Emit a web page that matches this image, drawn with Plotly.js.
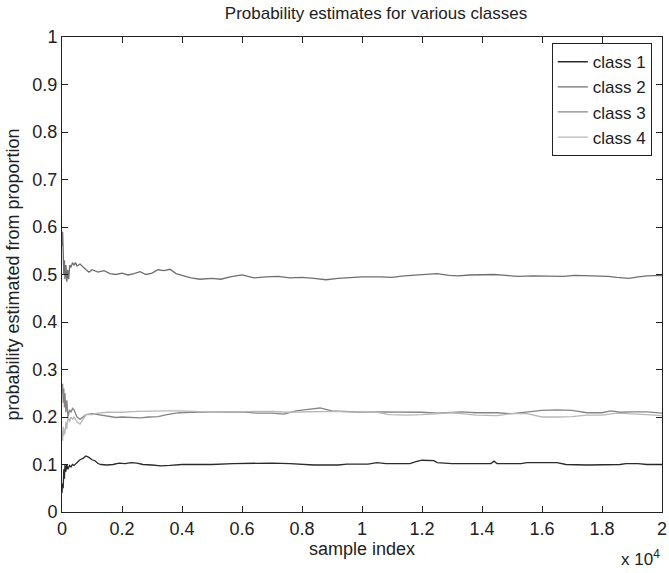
<!DOCTYPE html>
<html>
<head>
<meta charset="utf-8">
<script src="https://cdn.plot.ly/plotly-3.0.1.min.js"></script>
<style>html,body{margin:0;padding:0;background:#fff;}#chart{width:669px;height:573px;}</style>
</head>
<body>
<div id="chart"></div>
<script>
// x values are in units of 10^4 samples
const class1X = [0,0.002,0.004,0.006,0.008,0.01,0.013,0.016,0.02,0.025,0.03,0.035,0.04,0.05,0.06,0.07,0.08,0.09,0.1,0.11,0.12,0.13,0.15,0.17,0.19,0.21,0.23,0.25,0.27,0.3,0.33,0.36,0.4,0.46,0.5,0.57,0.63,0.7,0.76,0.8,0.84,0.92,0.95,1.02,1.05,1.08,1.16,1.18,1.2,1.24,1.25,1.3,1.43,1.44,1.45,1.53,1.55,1.65,1.68,1.75,1.8,1.86,1.88,1.92,1.95,2.0];
const class1Y = [0.04,0.06,0.05,0.09,0.07,0.1,0.085,0.1,0.09,0.098,0.095,0.1,0.098,0.105,0.11,0.113,0.118,0.115,0.11,0.108,0.102,0.1,0.099,0.1,0.103,0.102,0.104,0.103,0.1,0.099,0.097,0.098,0.1,0.1,0.1,0.102,0.103,0.103,0.102,0.1,0.099,0.099,0.101,0.101,0.104,0.102,0.102,0.106,0.109,0.108,0.104,0.102,0.102,0.107,0.102,0.102,0.104,0.104,0.1,0.099,0.1,0.1,0.102,0.102,0.1,0.1];

const class2X = [0,0.002,0.004,0.006,0.008,0.01,0.013,0.016,0.019,0.022,0.026,0.03,0.035,0.04,0.045,0.05,0.06,0.07,0.08,0.09,0.1,0.12,0.14,0.16,0.18,0.2,0.22,0.24,0.26,0.28,0.3,0.32,0.34,0.36,0.38,0.4,0.43,0.46,0.5,0.53,0.56,0.6,0.64,0.68,0.72,0.76,0.8,0.84,0.88,0.92,0.96,1.0,1.06,1.1,1.14,1.18,1.22,1.25,1.29,1.32,1.36,1.4,1.44,1.48,1.52,1.57,1.63,1.67,1.71,1.77,1.82,1.85,1.89,1.92,1.95,1.99,2.0];
const class2Y = [0.56,0.59,0.55,0.5,0.53,0.49,0.52,0.485,0.51,0.49,0.52,0.515,0.525,0.52,0.525,0.518,0.522,0.515,0.51,0.505,0.51,0.505,0.508,0.502,0.5,0.503,0.499,0.502,0.506,0.5,0.503,0.51,0.508,0.511,0.502,0.498,0.493,0.49,0.492,0.49,0.495,0.499,0.493,0.495,0.496,0.493,0.494,0.492,0.489,0.492,0.494,0.495,0.495,0.494,0.497,0.499,0.5,0.502,0.498,0.497,0.499,0.5,0.5,0.498,0.496,0.497,0.497,0.496,0.498,0.497,0.496,0.494,0.492,0.495,0.497,0.498,0.497];

const class3X = [0,0.002,0.004,0.006,0.008,0.01,0.013,0.016,0.02,0.025,0.03,0.035,0.04,0.05,0.06,0.07,0.08,0.1,0.12,0.14,0.16,0.18,0.2,0.24,0.26,0.29,0.32,0.35,0.39,0.43,0.46,0.5,0.56,0.6,0.65,0.7,0.74,0.78,0.82,0.86,0.9,0.95,1.0,1.05,1.1,1.15,1.2,1.25,1.3,1.33,1.38,1.45,1.5,1.55,1.6,1.65,1.7,1.75,1.8,1.83,1.86,1.9,1.95,2.0];
const class3Y = [0.25,0.27,0.23,0.26,0.22,0.25,0.21,0.235,0.2,0.215,0.21,0.218,0.215,0.2,0.195,0.2,0.205,0.207,0.205,0.203,0.2,0.199,0.2,0.198,0.198,0.2,0.201,0.205,0.209,0.21,0.21,0.21,0.211,0.211,0.208,0.208,0.206,0.213,0.216,0.219,0.213,0.212,0.21,0.211,0.211,0.21,0.21,0.208,0.209,0.211,0.209,0.209,0.207,0.211,0.214,0.215,0.214,0.209,0.209,0.213,0.21,0.211,0.211,0.208];

const class4X = [0,0.002,0.004,0.006,0.008,0.01,0.013,0.016,0.02,0.025,0.03,0.035,0.04,0.05,0.06,0.07,0.08,0.1,0.12,0.15,0.2,0.25,0.3,0.35,0.4,0.45,0.5,0.56,0.6,0.65,0.7,0.75,0.8,0.86,0.9,0.95,1.0,1.05,1.09,1.15,1.2,1.25,1.3,1.33,1.38,1.45,1.5,1.55,1.6,1.65,1.7,1.75,1.8,1.85,1.9,1.95,2.0];
const class4Y = [0.17,0.15,0.18,0.16,0.175,0.165,0.19,0.175,0.2,0.19,0.2,0.195,0.2,0.19,0.185,0.195,0.205,0.205,0.208,0.21,0.21,0.212,0.213,0.213,0.213,0.211,0.21,0.211,0.211,0.212,0.212,0.21,0.211,0.212,0.212,0.211,0.21,0.21,0.205,0.204,0.205,0.207,0.209,0.207,0.204,0.203,0.207,0.207,0.2,0.2,0.201,0.204,0.204,0.208,0.207,0.205,0.203];

const seriesNames = ["class 1","class 2","class 3","class 4"];
const xTickVals = [0,0.2,0.4,0.6,0.8,1,1.2,1.4,1.6,1.8,2];
const xTickText = ["0","0.2","0.4","0.6","0.8","1","1.2","1.4","1.6","1.8","2"];
const yTickVals = [0,0.1,0.2,0.3,0.4,0.5,0.6,0.7,0.8,0.9,1];
const yTickText = ["0","0.1","0.2","0.3","0.4","0.5","0.6","0.7","0.8","0.9","1"];

const colors = ["#2b2b2b","#6f6f6f","#858585","#b8b8b8"];
const xs = [class1X,class2X,class3X,class4X];
const ys = [class1Y,class2Y,class3Y,class4Y];

const traces = seriesNames.map((n,i)=>({
  x: xs[i], y: ys[i], name: n, type: 'scatter', mode: 'lines',
  line: {color: colors[i], width: 1.3}
}));

const font = {family: 'Liberation Sans, Arial, sans-serif', size: 18, color: '#222'};
const titleFont = {family: 'Liberation Sans, Arial, sans-serif', size: 17, color: '#222'};
const legendFont = {family: 'Liberation Sans, Arial, sans-serif', size: 17, color: '#222'};
const axisCommon = {
  showline: true, linecolor: '#222', linewidth: 1, mirror: 'ticks',
  ticks: 'inside', ticklen: 6, tickcolor: '#222', tickwidth: 1,
  showgrid: false, zeroline: false, tickfont: font
};

const layout = {
  width: 669, height: 573,
  margin: {l: 62, r: 7, t: 37, b: 61},
  paper_bgcolor: '#fff', plot_bgcolor: '#fff',
  font: font,
  title: {text: 'Probability estimates for various classes', font: titleFont, x: 0.562, xanchor: 'center', yref: 'container', y: 0.978, yanchor: 'middle'},
  xaxis: Object.assign({}, axisCommon, {
    range: [0, 2], tickvals: xTickVals, ticktext: xTickText,
    title: {text: 'sample index', font: font, standoff: 2}
  }),
  yaxis: Object.assign({}, axisCommon, {
    range: [0, 1], tickvals: yTickVals, ticktext: yTickText,
    title: {text: 'probability estimated from proportion', font: font, standoff: 8}
  }),
  legend: {
    x: 0.983, y: 0.987, xanchor: 'right', yanchor: 'top',
    bgcolor: '#fff', bordercolor: '#222', borderwidth: 1,
    font: legendFont, tracegroupgap: 0, itemwidth: 30
  },
  showlegend: true,
  annotations: [{
    text: 'x 10<sup>4</sup>', xref: 'paper', yref: 'paper',
    x: 1.0, y: -0.124, xanchor: 'right', yanchor: 'bottom',
    showarrow: false, font: {family: 'Liberation Sans, Arial, sans-serif', size: 17, color: '#222'}
  }]
};

Plotly.newPlot('chart', traces, layout, {staticPlot: true, displayModeBar: false});
</script>
</body>
</html>
